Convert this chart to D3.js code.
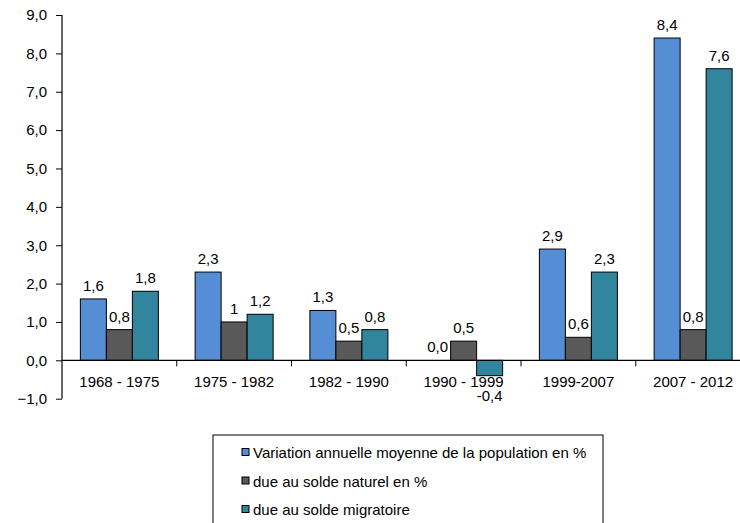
<!DOCTYPE html>
<html><head><meta charset="utf-8">
<script src="https://cdn.jsdelivr.net/npm/d3@7"></script>
<style>body{margin:0;background:#fff}svg{display:block;font-family:"Liberation Sans",Arial,sans-serif}</style>
</head><body><svg id="c" width="740" height="523"></svg>
<script>
const categories = ["1968 - 1975","1975 - 1982","1982 - 1990","1990 - 1999","1999-2007","2007 - 2012"];
const seriesNames = ["Variation annuelle moyenne de la population en %","due au solde naturel en %","due au solde migratoire"];
const variation = [1.6, 2.3, 1.3, 0.0, 2.9, 8.4];
const naturel = [0.8, 1.0, 0.5, 0.5, 0.6, 0.8];
const migratoire = [1.8, 1.2, 0.8, -0.4, 2.3, 7.6];
const labelsVariation = ["1,6","2,3","1,3","0,0","2,9","8,4"];
const labelsNaturel = ["0,8","1","0,5","0,5","0,6","0,8"];
const labelsMigratoire = ["1,8","1,2","0,8","-0,4","2,3","7,6"];
const yTicks = [-1,0,1,2,3,4,5,6,7,8,9];
const colors = ["#558ED5","#595959","#31859C"];

const FS = "15px";
const svg = d3.select("#c");
const x0 = d3.scaleBand().domain(categories).range([62, 750.5]).paddingInner(0).paddingOuter(0);
const y = d3.scaleLinear().domain([-1, 9]).range([398.7, 15]);
const bw = 26;
const series = [
  {vals: variation, labs: labelsVariation},
  {vals: naturel, labs: labelsNaturel},
  {vals: migratoire, labs: labelsMigratoire}
];
const x1 = d3.scaleBand().domain([0,1,2]).range([0, bw*3]);
const off = (x0.bandwidth() - bw*3)/2;

// y axis
const yAxis = d3.axisLeft(y).tickValues(yTicks).tickSize(6).tickPadding(9)
  .tickFormat(d => d3.format(".1f")(d).replace(".", ","));
const gy = svg.append("g").attr("transform","translate(62,0)").call(yAxis);
gy.selectAll("text").attr("font-size",FS).attr("fill","#000").attr("font-family","Liberation Sans, Arial, sans-serif");
gy.select(".domain").attr("stroke","#000").attr("d","M0,"+y(-1)+"V"+y(9)).attr("stroke-width",1.2);
gy.selectAll(".tick line").attr("stroke","#000");

// bars
series.forEach((s, si) => {
  const g = svg.append("g");
  g.selectAll("rect").data(s.vals).join("rect")
    .attr("x", (d,i) => x0(categories[i]) + off + x1(si))
    .attr("y", d => y(Math.max(0,d)))
    .attr("width", bw)
    .attr("height", d => Math.abs(y(d) - y(0)))
    .attr("fill", colors[si])
    .attr("stroke", "#000")
    .attr("stroke-width", 1);
  g.selectAll("text").data(s.vals).join("text")
    .attr("x", (d,i) => x0(categories[i]) + off + x1(si) + bw/2)
    .attr("y", d => d < 0 ? y(d) + 25 : y(d) - 8)
    .attr("text-anchor","middle")
    .attr("font-size",FS)
    .attr("fill","#000")
    .text((d,i) => s.labs[i]);
});

// x axis
const gx = svg.append("g").attr("transform","translate(0,"+y(0)+")");
gx.append("line").attr("x1",62).attr("x2",750).attr("stroke","#000").attr("stroke-width",1.2);
gx.selectAll(".sep").data(categories.slice(1)).join("line")
  .attr("x1", d => x0(d)).attr("x2", d => x0(d)).attr("y1",0).attr("y2",6).attr("stroke","#000");
gx.selectAll(".lbl").data(categories).join("text")
  .attr("x", d => x0(d) + x0.bandwidth()/2)
  .attr("y", 27)
  .attr("text-anchor","middle")
  .attr("font-size",FS)
  .attr("fill","#000")
  .text(d => d);

// legend
const lg = svg.append("g");
lg.append("rect").attr("x",213).attr("y",435).attr("width",390).attr("height",100)
  .attr("fill","#fff").attr("stroke","#000").attr("stroke-width",1);
const rowsY = [452.5, 481, 509.5];
seriesNames.forEach((n,i) => {
  lg.append("rect").attr("x",242).attr("y",rowsY[i]-4).attr("width",7).attr("height",7)
    .attr("fill",colors[i]).attr("stroke","#000").attr("stroke-width",1);
  lg.append("text").attr("x",253).attr("y",rowsY[i]+5.5).attr("font-size",FS).attr("fill","#000")
    .text(n);
});
</script></body></html>
